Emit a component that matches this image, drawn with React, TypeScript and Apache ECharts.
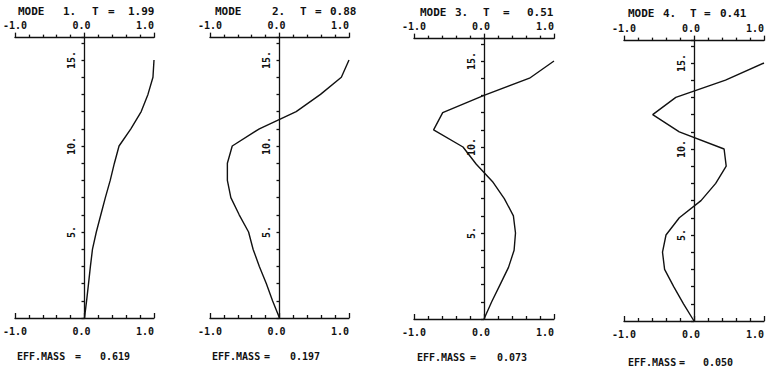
import React, { useEffect, useRef } from "react";
import * as echarts from "echarts";

// Floor levels (y values)
const floors = [0, 1, 2, 3, 4, 5, 6, 7, 8, 9, 10, 11, 12, 13, 14, 15];

// Mode shape amplitudes at each floor
const mode1 = [0, 0.03, 0.058, 0.085, 0.115, 0.17, 0.235, 0.3, 0.37, 0.43, 0.497, 0.667, 0.816, 0.913, 0.985, 1.0];
const mode2 = [0, -0.1, -0.19, -0.29, -0.38, -0.445, -0.58, -0.7, -0.75, -0.75, -0.68, -0.29, 0.24, 0.59, 0.89, 1.0];
const mode3 = [0, 0.11, 0.23, 0.35, 0.43, 0.45, 0.42, 0.29, 0.12, -0.11, -0.3, -0.72, -0.59, 0.0, 0.65, 1.0];
const mode4 = [0, -0.15, -0.29, -0.42, -0.45, -0.4, -0.21, 0.1, 0.31, 0.46, 0.43, -0.21, -0.59, -0.26, 0.45, 1.0];

const modes = [mode1, mode2, mode3, mode4];
const modeNumbers = ["1.", "2.", "3.", "4."];
const periods = ["1.99", "0.88", "0.51", "0.41"];
const effMasses = ["0.619", "0.197", "0.073", "0.050"];

const xMin = -1;
const xMax = 1;
const yMax = 16.3;
const yLabelEvery = 5;

// layout
const panels = [
  { left: 15, right: 154, bottom: 318 },
  { left: 210, right: 349, bottom: 318 },
  { left: 414, right: 554, bottom: 319 },
  { left: 624, right: 764, bottom: 321 },
];
const pxPerUnit = 17.2;
const titlePos = [
  { y: 12, xs: [18, 63, 92, 108, 128] },
  { y: 12, xs: [215, 272, 300, 315, 330] },
  { y: 13, xs: [420, 455, 483, 503, 527] },
  { y: 14, xs: [628, 663, 690, 704, 720] },
];
const effPos = [
  { y: 357, xs: [17, 75, 100] },
  { y: 357, xs: [212, 264, 290] },
  { y: 358, xs: [417, 470, 497] },
  { y: 363, xs: [628, 679, 703] },
];

const FONT = "DejaVu Sans Mono";
const INK = "#111";
const NB = "\u00a0";

// plotter-style label placement: the 0.0 label sits slightly left of its tick
const xLabel = (v: number) => {
  const s = v.toFixed(1);
  return v === 0 ? s + NB : s;
};

export default function App() {
  const ref = useRef<HTMLDivElement>(null);
  useEffect(() => {
    if (!ref.current) return;
    const chart = echarts.init(ref.current, undefined, { renderer: "svg" });
    const H = yMax * pxPerUnit;
    const grids: any[] = [];
    const xAxes: any[] = [];
    const yAxes: any[] = [];
    const series: any[] = [];
    const graphics: any[] = [];
    const lineStyle = { color: INK, width: 1.3 };
    const n = panels.length;
    panels.forEach((p, i) => {
      grids.push({
        left: p.left,
        top: p.bottom - H,
        width: p.right - p.left,
        height: H,
        outerBoundsMode: "none",
        containLabel: false,
      });
      const baseX = {
        type: "value",
        gridIndex: i,
        min: xMin,
        max: xMax,
        interval: 1,
        splitLine: { show: false },
        axisLine: { show: true, onZero: false, lineStyle },
        minorTick: { show: true, splitNumber: 5, length: 3, lineStyle },
        axisLabel: {
          formatter: xLabel,
          fontFamily: FONT,
          fontSize: 10,
          fontWeight: "bold",
          color: INK,
          alignMaxLabel: "right",
          alignMinLabel: "center",
        },
      };
      xAxes.push({
        ...baseX,
        position: "bottom",
        axisTick: { show: true, inside: true, length: 5, lineStyle },
        axisLabel: { ...baseX.axisLabel, margin: 8 },
      });
      xAxes.push({
        ...baseX,
        position: "top",
        axisTick: { show: true, inside: false, length: 5, lineStyle },
        axisLabel: { ...baseX.axisLabel, margin: 7 },
      });
      yAxes.push({
        type: "value",
        gridIndex: i,
        min: 0,
        max: yMax,
        show: false,
      });
      series.push({
        type: "line",
        xAxisIndex: 2 * i,
        yAxisIndex: i,
        data: modes[i].map((x, k) => [x, floors[k]]),
        showSymbol: false,
        symbol: "none",
        silent: true,
        lineStyle: { color: INK, width: 1.4 },
      });
      const t = titlePos[i];
      const parts = ["MODE", modeNumbers[i], "T", "=", periods[i]];
      parts.forEach((s, k) => {
        graphics.push({
          type: "text",
          left: t.xs[k],
          top: t.y - 6,
          style: { text: s, fontFamily: FONT, fontSize: 11, fontWeight: "bold", fill: INK },
        });
      });
      const e = effPos[i];
      const eparts = ["EFF.MASS", "=", effMasses[i]];
      eparts.forEach((s, k) => {
        graphics.push({
          type: "text",
          left: e.xs[k],
          top: e.y - 6,
          style: { text: s, fontFamily: FONT, fontSize: 10, fontWeight: "bold", fill: INK },
        });
      });
    });
    // vertical axes at zero amplitude: one narrow grid per panel
    panels.forEach((p, i) => {
      const gi = n + i;
      const zeroX = p.left + ((0 - xMin) / (xMax - xMin)) * (p.right - p.left);
      grids.push({
        left: zeroX,
        top: p.bottom - H,
        width: 1,
        height: H,
        outerBoundsMode: "none",
        containLabel: false,
      });
      xAxes.push({ type: "value", gridIndex: gi, min: 0, max: 1, show: false });
      yAxes.push({
        type: "value",
        gridIndex: gi,
        position: "left",
        min: 0,
        max: yMax,
        interval: 1,
        splitLine: { show: false },
        axisLine: { show: true, onZero: false, lineStyle },
        axisTick: { show: true, inside: false, length: 3, lineStyle },
        axisLabel: {
          rotate: 90,
          margin: 8,
          fontFamily: FONT,
          fontSize: 10,
          fontWeight: "bold",
          color: INK,
          formatter: (v: number) => (v > 0 && v % yLabelEvery === 0 ? v + "." : ""),
        },
      });
    });
    chart.setOption({
      animation: false,
      backgroundColor: "#fff",
      grid: grids,
      xAxis: xAxes,
      yAxis: yAxes,
      series,
      graphic: graphics,
    });
    return () => chart.dispose();
  }, []);
  return (
    <div
      ref={ref}
      style={{ position: "absolute", left: 0, top: 0, width: 771, height: 369 }}
    />
  );
}
